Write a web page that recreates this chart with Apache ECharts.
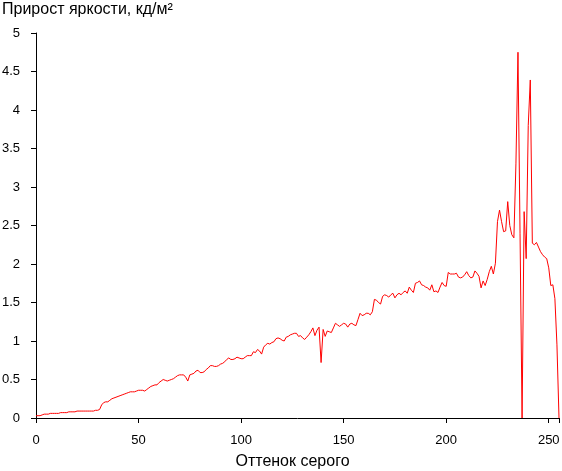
<!DOCTYPE html>
<html>
<head>
<meta charset="utf-8">
<script src="https://cdn.jsdelivr.net/npm/echarts@6/dist/echarts.min.js"></script>
<style>
html,body{margin:0;padding:0;background:#fff;}
#chart{width:562px;height:471px;}
</style>
</head>
<body>
<div id="chart"></div>
<script>
// Gray levels 0..255
const grayLevels = Array.from({length: 256}, (_, i) => i);
// Brightness increment (cd/m^2)
const increments = [
0.03,0.03,0.03,0.04,0.05,0.05,0.05,0.06,0.06,0.06,
0.06,0.06,0.07,0.07,0.07,0.07,0.08,0.08,0.08,0.08,
0.09,0.09,0.09,0.09,0.09,0.09,0.09,0.09,0.09,0.10,
0.10,0.11,0.17,0.20,0.21,0.21,0.23,0.25,0.26,0.27,
0.28,0.29,0.30,0.31,0.32,0.33,0.34,0.34,0.34,0.35,
0.36,0.36,0.36,0.35,0.37,0.39,0.41,0.42,0.43,0.43,
0.46,0.48,0.50,0.49,0.48,0.49,0.50,0.51,0.53,0.55,
0.56,0.56,0.56,0.53,0.48,0.56,0.57,0.58,0.61,0.62,
0.59,0.59,0.60,0.63,0.65,0.68,0.68,0.67,0.67,0.68,
0.70,0.71,0.73,0.76,0.78,0.76,0.76,0.77,0.79,0.78,
0.77,0.77,0.79,0.81,0.81,0.81,0.86,0.85,0.89,0.87,
0.83,0.92,0.95,0.97,0.96,0.98,0.99,1.03,1.04,1.03,
1.01,1.00,1.05,1.06,1.08,1.09,1.10,1.10,1.06,1.07,
1.04,1.02,1.05,1.08,1.12,1.17,1.07,1.14,1.18,0.72,
1.15,1.06,1.13,1.12,1.11,1.17,1.23,1.21,1.19,1.21,
1.23,1.22,1.18,1.22,1.23,1.21,1.20,1.28,1.36,1.33,
1.34,1.36,1.36,1.34,1.38,1.54,1.53,1.50,1.48,1.58,
1.60,1.59,1.57,1.60,1.62,1.56,1.60,1.62,1.60,1.63,
1.65,1.62,1.70,1.66,1.63,1.75,1.76,1.78,1.73,1.72,
1.70,1.69,1.66,1.73,1.64,1.65,1.63,1.70,1.76,1.72,
1.71,1.89,1.87,1.87,1.87,1.88,1.83,1.82,1.83,1.86,
1.90,1.85,1.82,1.83,1.91,1.88,1.84,1.69,1.78,1.72,
1.80,1.90,1.97,1.87,2.01,2.55,2.70,2.55,2.42,2.43,
2.81,2.50,2.38,2.34,3.30,4.75,2.40,0.00,2.68,2.07,
3.80,4.39,2.27,2.25,2.28,2.22,2.16,2.12,2.09,2.07,
1.95,1.72,1.73,1.55,0.95,0.00
];
const xTicks = [0, 50, 100, 150, 200, 250];
const yTicks = [0, 0.5, 1, 1.5, 2, 2.5, 3, 3.5, 4, 4.5, 5];

const chart = echarts.init(document.getElementById('chart'), null, {renderer: 'canvas'});
const font = 'Liberation Sans, Arial, sans-serif';
chart.setOption({
  animation: false,
  backgroundColor: '#fff',
  title: {
    text: 'Прирост яркости, кд/м²',
    left: 2, top: 2, padding: 0,
    textStyle: {fontFamily: font, fontSize: 16, fontWeight: 'normal', color: '#000'}
  },
  grid: {left: 36, right: 3, top: 33, bottom: 53, containLabel: false, outerBoundsMode: 'none'},
  xAxis: {
    type: 'value', min: 0, max: 255, interval: 50,
    name: 'Оттенок серого', nameLocation: 'middle', nameGap: 36,
    nameTextStyle: {fontFamily: font, fontSize: 16, color: '#000', padding: [0, 10, 0, 0]},
    axisLine: {lineStyle: {color: '#000', width: 1}},
    axisTick: {show: true, length: 5, lineStyle: {color: '#000'}},
    axisLabel: {fontFamily: font, fontSize: 13, color: '#000', margin: 16,
      formatter: v => xTicks.includes(v) ? String(v) : ''},
    splitLine: {show: false}
  },
  yAxis: {
    type: 'value', min: 0, max: 5, interval: 0.5,
    axisLine: {show: true, lineStyle: {color: '#000', width: 1}},
    axisTick: {show: true, length: 5, lineStyle: {color: '#000'}},
    axisLabel: {fontFamily: font, fontSize: 13, color: '#000', margin: 16,
      formatter: v => yTicks.includes(v) ? String(v) : ''},
    splitLine: {show: false}
  },
  series: [{
    type: 'line',
    data: grayLevels.map((g, i) => [g, increments[i]]),
    showSymbol: false,
    symbol: 'none',
    lineStyle: {color: '#ff0000', width: 1},
    itemStyle: {color: '#ff0000'}
  }]
});
</script>
</body>
</html>
